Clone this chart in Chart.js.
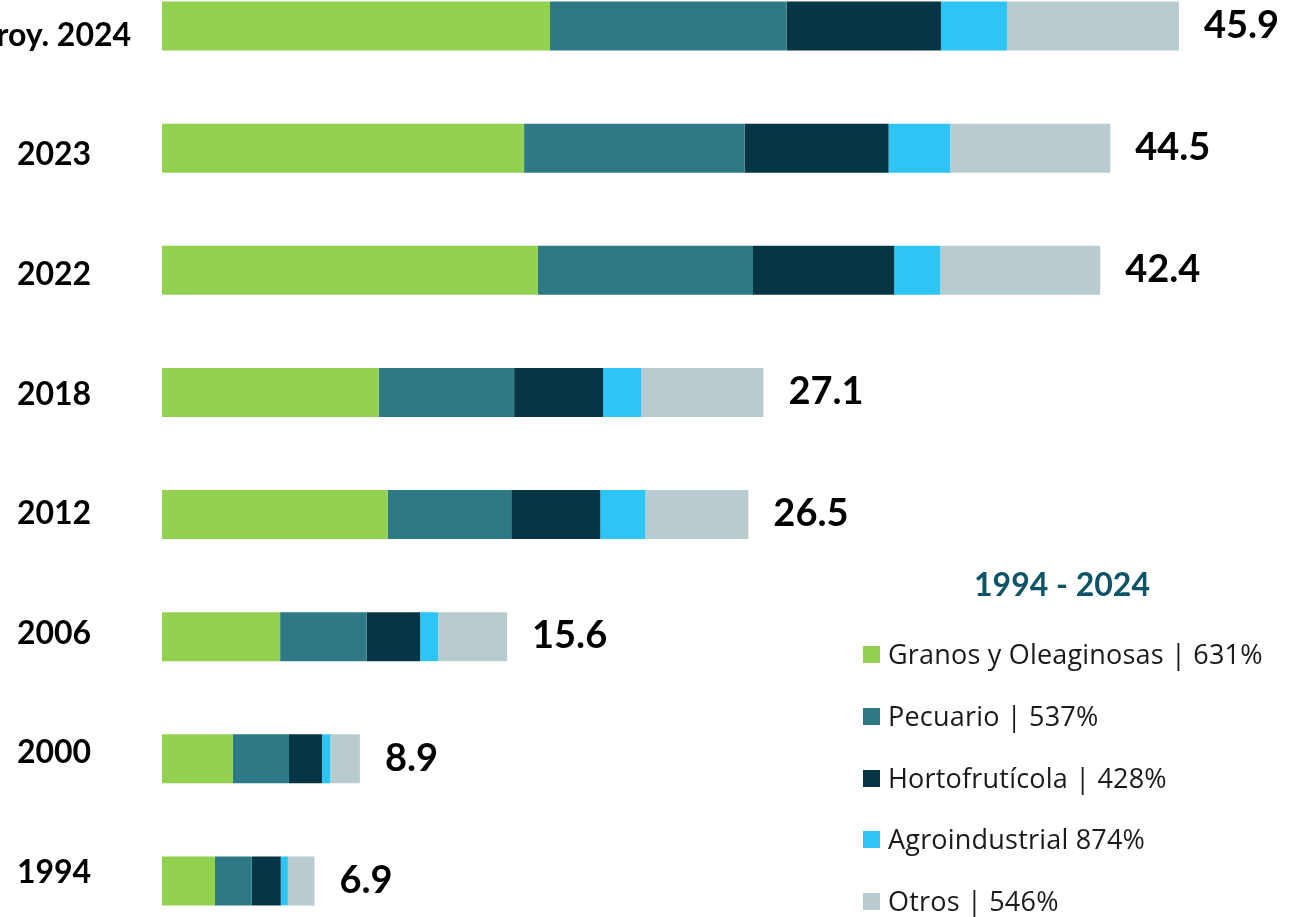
<!DOCTYPE html>
<html><head><meta charset="utf-8">
<script src="https://cdn.jsdelivr.net/npm/chart.js@4/dist/chart.umd.min.js"></script>
<style>
html,body{margin:0;padding:0;background:#fff;overflow:hidden;width:1312px;height:917px;}
#wrap{position:absolute;left:0;top:-35.5px;width:1312px;height:977px;}
#legend{position:absolute;left:0;top:0;width:1312px;height:917px;pointer-events:none;}
.ltitle{position:absolute;left:962px;width:200px;top:568px;text-align:center;font-family:Lato,sans-serif;font-weight:bold;font-size:32px;line-height:32px;color:#0E5468;white-space:nowrap;}
.lbox{position:absolute;left:863px;width:17px;height:17px;}
.ltext{position:absolute;left:888px;font-family:'Open Sans',sans-serif;font-size:27px;line-height:27px;letter-spacing:0.2px;color:#1a1a1a;white-space:nowrap;}
</style>
</head><body>
<div id="wrap"><canvas id="c"></canvas></div>
<div id="legend"></div>
<script>
const categories = ['Proy. 2024','2023','2022','2018','2012','2006','2000','1994'];
const granos   = [17.51,16.34,16.96,9.78,10.19,5.33,3.20,2.39];
const pecuario = [10.68, 9.95, 9.71,6.11, 5.57,3.90,2.53,1.66];
const horto    = [ 6.96, 6.50, 6.37,4.02, 4.02,2.42,1.49,1.31];
const agro     = [ 2.98, 2.78, 2.08,1.72, 2.03,0.81,0.38,0.32];
const otros    = [ 7.76, 7.22, 7.22,5.51, 4.65,3.11,1.33,1.20];
const totals   = ['45.9','44.5','42.4','27.1','26.5','15.6','8.9','6.9'];
const seriesNames = ['Granos y Oleaginosas | 631%','Pecuario | 537%','Hortofrutícola | 428%','Agroindustrial 874%','Otros | 546%'];
const seriesColors = ['#92D050','#2D7A86','#063546','#2EC5F6','#B8CBCF'];
const legendTitle = '1994 - 2024';

const tickFont = {family:'Lato', weight:'bold', size:32};
const mctx = document.createElement('canvas').getContext('2d');
mctx.font = 'bold 32px Lato';
const widest = Math.max(...categories.map(c => mctx.measureText(c).width));
const labelPad = 108 - widest/2;

const totalsPlugin = {
  id:'totals',
  afterDatasetsDraw(chart){
    const ctx = chart.ctx;
    const last = chart.getDatasetMeta(chart.data.datasets.length-1);
    ctx.save();
    ctx.font = 'bold 38px Lato';
    ctx.fillStyle = '#000';
    ctx.textBaseline = 'middle';
    ctx.textAlign = 'left';
    last.data.forEach((bar,i)=>{ ctx.fillText(totals[i], bar.x + 25, bar.y - 0.5); });
    ctx.restore();
  }
};

const seriesData = [granos, pecuario, horto, agro, otros];
const chart = new Chart(document.getElementById('c'), {
  type:'bar',
  data:{
    labels: categories,
    datasets: seriesData.map((d,i)=>({
      label: seriesNames[i], data: d, backgroundColor: seriesColors[i],
      borderWidth:0, categoryPercentage:1, barPercentage:0.401
    }))
  },
  options:{
    indexAxis:'y',
    responsive:true, maintainAspectRatio:false, animation:false,
    layout:{padding:{left:0,right:42,top:0,bottom:0}},
    plugins:{legend:{display:false}, tooltip:{enabled:false}},
    scales:{
      x:{stacked:true, min:0, max:50, display:false},
      y:{stacked:true, display:false, offset:true},
      yLab:{
        type:'linear', position:'left', reverse:true, offset:false,
        min:-0.5905, max:7.5805,
        grid:{display:false, drawTicks:true, tickLength:labelPad}, border:{display:false},
        ticks:{font:tickFont, color:'#000', crossAlign:'center', padding:0,
               callback:(v)=> categories[v] !== undefined ? categories[v] : ''},
        afterBuildTicks:(s)=>{ s.ticks = categories.map((_,i)=>({value:i})); },
        afterFit:(s)=>{ s.width = 162; s.paddingTop = 0; s.paddingBottom = 0; }
      }
    }
  },
  plugins:[totalsPlugin]
});

const lg = document.getElementById('legend');
const t = document.createElement('div'); t.className='ltitle'; t.textContent = legendTitle; lg.appendChild(t);
chart.data.datasets.forEach((ds,i)=>{
  const cy = 654.5 + i*61.8;
  const b = document.createElement('div'); b.className='lbox';
  b.style.top = (cy-8.5)+'px'; b.style.background = ds.backgroundColor; lg.appendChild(b);
  const tx = document.createElement('div'); tx.className='ltext';
  tx.style.top = (cy-14.5)+'px'; tx.textContent = ds.label; lg.appendChild(tx);
});
</script>
</body></html>
